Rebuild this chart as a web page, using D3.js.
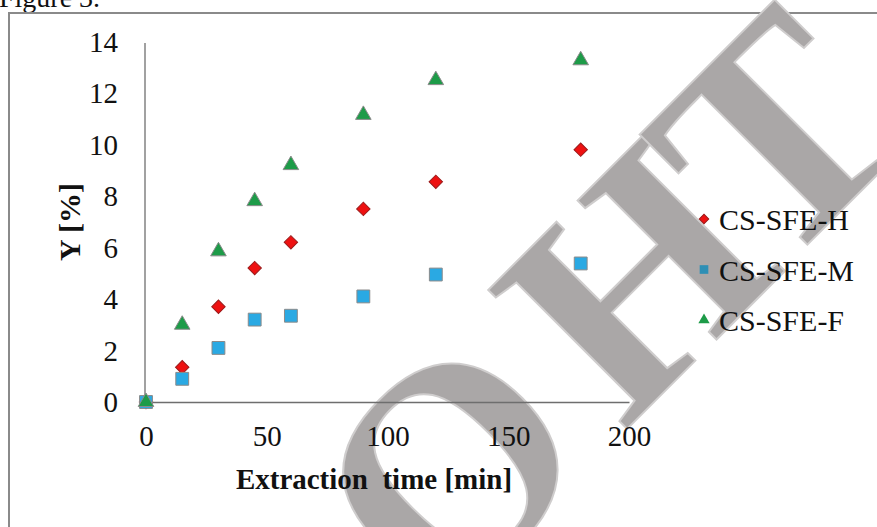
<!DOCTYPE html>
<html>
<head>
<meta charset="utf-8">
<script src="https://cdn.jsdelivr.net/npm/d3@7"></script>
<style>
  html, body { margin: 0; padding: 0; background: #fff; }
  svg { display: block; }
  text { font-family: "Liberation Serif", "Times New Roman", serif; }
</style>
</head>
<body>
<svg id="chart" width="877" height="527"></svg>
<script>
// ---- data ----
const times = [0, 15, 30, 45, 60, 90, 120, 180];
const seriesNames = ["CS-SFE-H", "CS-SFE-M", "CS-SFE-F"];
const valuesH = [0, 1.35, 3.7, 5.2, 6.2, 7.5, 8.55, 9.8];
const valuesM = [0, 0.9, 2.1, 3.2, 3.35, 4.1, 4.95, 5.38];
const valuesF = [0, 3.0, 5.85, 7.8, 9.2, 11.15, 12.5, 13.27];
const xTicks = [0, 50, 100, 150, 200];
const yTicks = [0, 2, 4, 6, 8, 10, 12, 14];
const watermarkLetters = ["O", "H", "T"];

const svg = d3.select("#chart");

// figure caption (cut off at top)
svg.append("text").attr("x", -1).attr("y", 7)
  .attr("font-size", 28).attr("fill", "#111").text("Figure 3.");

// outer frame
svg.append("path").attr("d", "M9,540 L9,13 L890,13")
  .attr("fill", "none").attr("stroke", "#8a8a8a").attr("stroke-width", 2);

// watermark
const wmPos = [[520, 540], [706, 350], [846, 206]];
svg.append("g").selectAll("text").data(watermarkLetters).join("text")
  .attr("transform", (d, i) => `translate(${wmPos[i][0]},${wmPos[i][1]}) rotate(-45)`)
  .attr("text-anchor", "middle")
  .attr("font-size", 300)
  .attr("font-weight", "bold")
  .attr("fill", "#aaa7a7")
  .attr("stroke", "#cfcdcd").attr("stroke-width", 2)
  .text(d => d);

const x = d3.scaleLinear().domain([0, 200]).range([146, 629]);
const y = d3.scaleLinear().domain([0, 14]).range([402, 41.5]);

// axes
const yAxis = svg.append("g").attr("transform", `translate(${x(0) - 1},0)`)
  .call(d3.axisLeft(y).tickValues(yTicks).tickSize(0).tickPadding(27).tickSizeOuter(0));
yAxis.select(".domain").attr("stroke", "#8a8a8a").attr("stroke-width", 1.6)
  .attr("d", `M0,${y(0)}V${y(14) + 1.5}`);
yAxis.selectAll("text").attr("font-size", 29).attr("fill", "#111")
  .attr("font-family", "Liberation Serif").attr("dy", "0.34em");

const xAxis = svg.append("g").attr("transform", `translate(0,${y(0)})`)
  .call(d3.axisBottom(x).tickValues(xTicks).tickSize(0).tickPadding(23).tickSizeOuter(0));
xAxis.select(".domain").attr("stroke", "#6e6e6e").attr("stroke-width", 1.6);
xAxis.selectAll("text").attr("font-size", 29).attr("fill", "#111")
  .attr("font-family", "Liberation Serif").attr("dy", "0.71em");

// axis titles
svg.append("text").attr("x", 374).attr("y", 489)
  .attr("text-anchor", "middle").attr("font-size", 29).attr("font-weight", "bold")
  .attr("fill", "#111").style("white-space", "pre")
  .text("Extraction  time [min]");
svg.append("text").attr("transform", "translate(80,222) rotate(-90)")
  .attr("text-anchor", "middle").attr("font-size", 30).attr("font-weight", "bold")
  .attr("fill", "#111").text("Y [%]");

// markers
const styles = [
  { name: seriesNames[0], vals: valuesH, sym: d3.symbolSquare, rot: 45, size: 90, fill: "#ee1111", stroke: "#9a1a1a", lsize: 45 },
  { name: seriesNames[1], vals: valuesM, sym: d3.symbolSquare, rot: 0, size: 165, fill: "#2aa9e3", stroke: "#8a8a8a", lsize: 75 },
  { name: seriesNames[2], vals: valuesF, sym: d3.symbolTriangle, rot: 0, size: 105, fill: "#1d9b48", stroke: "#8a8a8a", lsize: 55 }
];

styles.forEach(s => {
  svg.append("g").selectAll("path").data(times).join("path")
    .attr("transform", (t, i) => `translate(${x(t)},${y(s.vals[i])}) rotate(${s.rot})`)
    .attr("d", d3.symbol().type(s.sym).size(s.size))
    .attr("fill", s.fill).attr("stroke", s.stroke).attr("stroke-width", 1);
});

// legend
const leg = svg.append("g");
styles.forEach((s, i) => {
  const cy = 219 + i * 50.5;
  leg.append("path").attr("transform", `translate(704,${cy}) rotate(${s.rot})`)
    .attr("d", d3.symbol().type(s.sym).size(s.lsize))
    .attr("fill", i === 1 ? "#2e8fb5" : s.fill).attr("stroke", i === 0 ? s.stroke : "none");
  leg.append("text").attr("x", 719).attr("y", cy + 11)
    .attr("font-size", 30).attr("fill", "#111").text(s.name);
});
</script>
</body>
</html>
